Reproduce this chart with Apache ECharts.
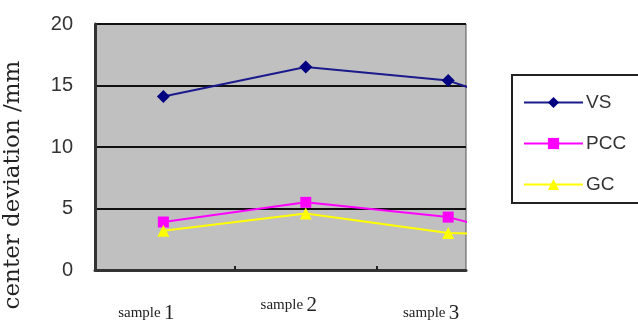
<!DOCTYPE html>
<html>
<head>
<meta charset="utf-8">
<script src="https://cdn.jsdelivr.net/npm/echarts@6/dist/echarts.min.js"></script>
<style>
  html, body { margin: 0; padding: 0; background: #fff; }
  #chart { width: 638px; height: 323px; }
</style>
</head>
<body>
<div id="chart"></div>
<script>
// Sample names; the trailing entry continues the series past the right edge of the plot.
const categories = ['sample 1', 'sample 2', 'sample 3', ''];
const vsValues  = [14.1, 16.5, 15.4, 11.5];
const pccValues = [3.9, 5.5, 4.3, 1.3];
const gcValues  = [3.2, 4.6, 3.0, 2.8];
const yTicks = [0, 5, 10, 15, 20];

const toPoints = vals => vals.map((v, i) => [i + 1, v]);

const chart = echarts.init(document.getElementById('chart'), null, { renderer: 'canvas' });

chart.setOption({
  animation: false,
  backgroundColor: '#ffffff',
  grid: {
    left: 95, right: 172, top: 24, bottom: 53,
    outerBoundsMode: 'none',
    containLabel: false,
    show: true, backgroundColor: '#c0c0c0', borderWidth: 1, borderColor: '#555'
  },
  xAxis: {
    type: 'value',
    min: 0.52, max: 3.125,
    axisLine: { show: true, onZero: false, lineStyle: { color: '#333', width: 3 } },
    splitLine: { show: false },
    axisTick: { show: true, inside: true, length: 4, customValues: [1.5, 2.5],
                lineStyle: { color: '#222', width: 2 } },
    axisLabel: {
      customValues: [1, 2, 3],
      margin: 23,
      formatter: v => {
        const name = categories[Math.round(v) - 1];
        const parts = name.split(' ');
        const key = Math.round(v) === 2 ? 'hi' : 'lo';
        return '{' + key + 's|' + parts[0] + '} {' + key + 'n|' + parts[1] + '}';
      },
      rich: {
        los: { fontFamily: 'Liberation Serif', fontSize: 15, color: '#222', lineHeight: 40 },
        lon: { fontFamily: 'Liberation Serif', fontSize: 21, color: '#222', lineHeight: 40 },
        his: { fontFamily: 'Liberation Serif', fontSize: 15, color: '#222', lineHeight: 24 },
        hin: { fontFamily: 'Liberation Serif', fontSize: 21, color: '#222', lineHeight: 24 }
      },
      padding: [0, 34, 0, 0]
    }
  },
  yAxis: {
    type: 'value',
    min: yTicks[0], max: yTicks[yTicks.length - 1], interval: 5,
    name: 'center deviation /mm',
    nameLocation: 'middle',
    nameRotate: 90,
    nameGap: 70,
    nameTextStyle: { fontFamily: 'DejaVu Serif', fontSize: 23, color: '#222', padding: [0, 76, 0, 0] },
    axisLine: { show: true, lineStyle: { color: '#333', width: 3 } },
    axisTick: { show: false },
    splitLine: { show: true, lineStyle: { color: '#111', width: 2 } },
    axisLabel: { margin: 22, fontFamily: 'Liberation Sans', fontSize: 20, color: '#333' }
  },
  legend: {
    orient: 'vertical',
    left: 512, top: 75,
    padding: [18, 14, 9, 11],
    itemGap: 22,
    itemWidth: 59, itemHeight: 14,
    borderColor: '#222', borderWidth: 2,
    backgroundColor: '#fff',
    textStyle: { fontFamily: 'Liberation Sans', fontSize: 19, color: '#333', padding: [0, 0, 0, -2] },
    data: ['VS', 'PCC', 'GC']
  },
  series: [
    {
      name: 'VS', type: 'line', data: toPoints(vsValues),
      symbol: 'diamond', symbolSize: 13,
      lineStyle: { color: '#1a1a8c', width: 2 },
      itemStyle: { color: '#000080' }
    },
    {
      name: 'PCC', type: 'line', data: toPoints(pccValues),
      symbol: 'rect', symbolSize: 11,
      lineStyle: { color: '#ff00ff', width: 2 },
      itemStyle: { color: '#ff00ff' }
    },
    {
      name: 'GC', type: 'line', data: toPoints(gcValues),
      symbol: 'triangle', symbolSize: 12,
      lineStyle: { color: '#ffff00', width: 2 },
      itemStyle: { color: '#ffff00' }
    }
  ]
});
</script>
</body>
</html>
